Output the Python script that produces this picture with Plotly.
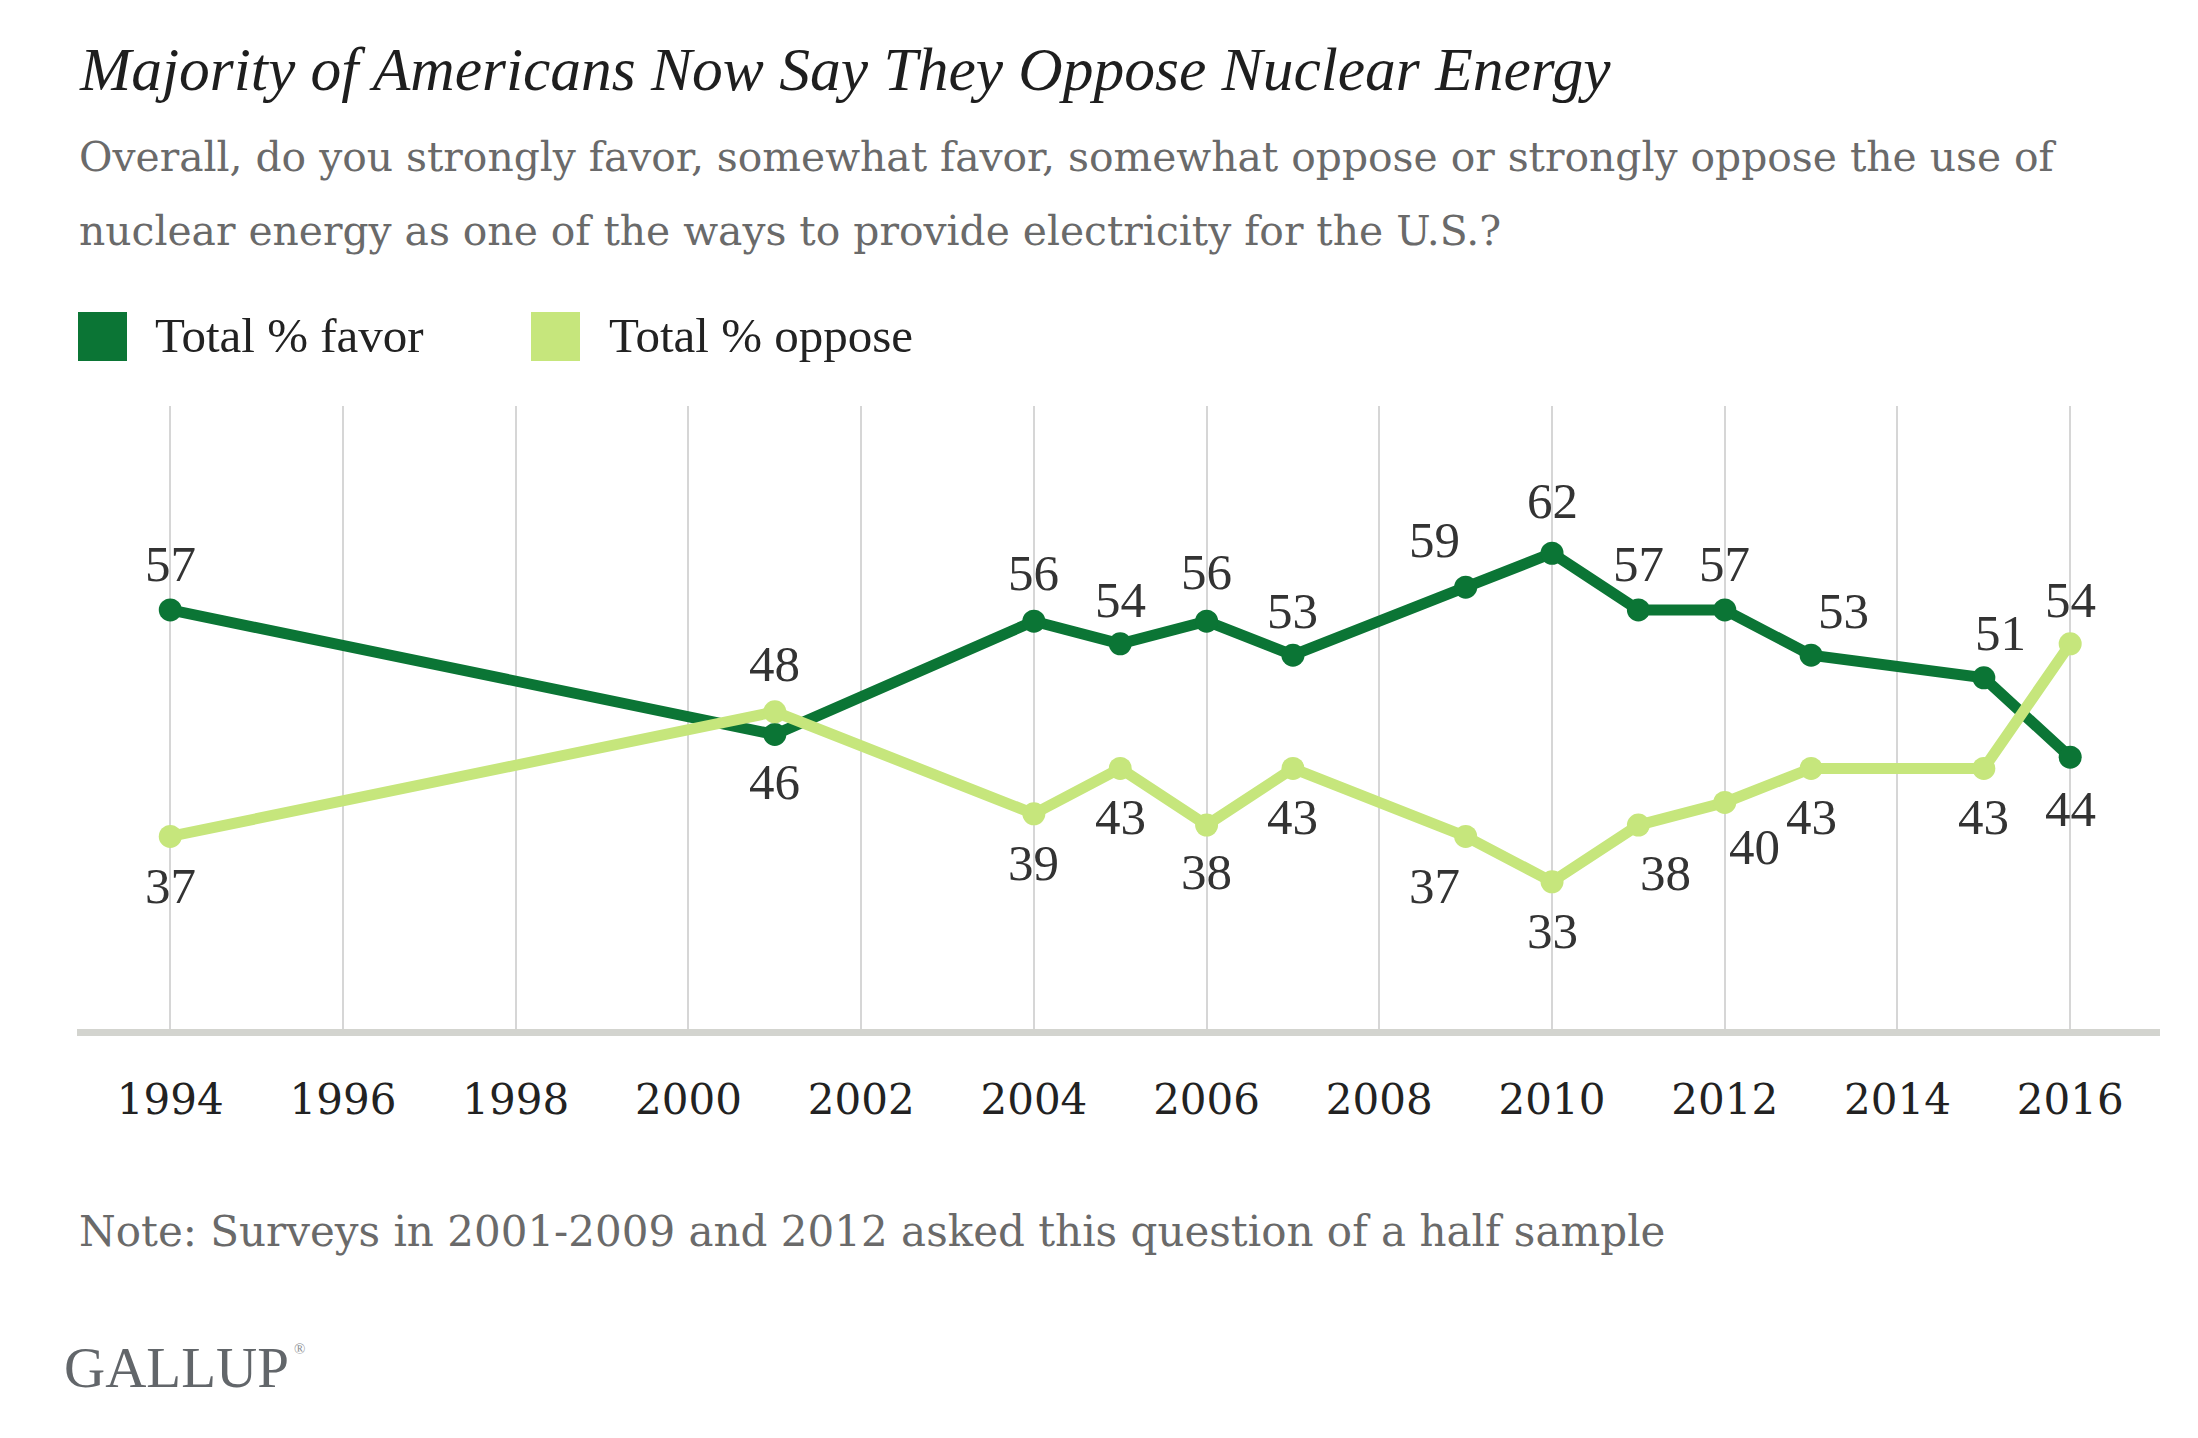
import plotly.graph_objects as go

# ---- data ----
years = [1994, 2001, 2004, 2005, 2006, 2007, 2009, 2010, 2011, 2012, 2013, 2015, 2016]
favor = [57, 46, 56, 54, 56, 53, 59, 62, 57, 57, 53, 51, 44]
oppose = [37, 48, 39, 43, 38, 43, 37, 33, 38, 40, 43, 43, 54]
tick_years = [1994, 1996, 1998, 2000, 2002, 2004, 2006, 2008, 2010, 2012, 2014, 2016]
series_names = ["Total % favor", "Total % oppose"]

title = "Majority of Americans Now Say They Oppose Nuclear Energy"
subtitle1 = "Overall, do you strongly favor, somewhat favor, somewhat oppose or strongly oppose the use of"
subtitle2 = "nuclear energy as one of the ways to provide electricity for the U.S.?"
note = "Note: Surveys in 2001-2009 and 2012 asked this question of a half sample"
brand = "GALLUP"

# ---- label placement (style) ----
favor_dir = [1, -1, 1, 1, 1, 1, 1, 1, 1, 1, 1, 1, -1]
favor_dx = [0, 0, 0, 0, 0, 0, -31, 0, 0, 0, 32, 17, 0]
favor_dy = [46, 48, 48, 44, 49, 44, 47, 52, 46, 46, 44, 45, 52]
oppose_dir = [-1, 1, -1, -1, -1, -1, -1, -1, -1, -1, -1, -1, 1]
oppose_dx = [0, 0, 0, 0, 0, 0, -31, 0, 27, 30, 0, 0, 0]
oppose_dy = [50, 48, 49, 49, 47, 49, 50, 49, 48, 45, 49, 49, 44]

DARK = "#0b7535"
LIGHT = "#c6e67c"
SERIF = "Liberation Serif"
WIDE = "DejaVu Serif"

W, H = 2190, 1430
L, R, T, B = 69, 69 + 2083, 398, 398 + 623
PW, PH = R - L, B - T


def X(px):
    return (px - L) / PW


def Y(py):
    return (B - py) / PH


fig = go.Figure()
fig.add_trace(go.Scatter(x=years, y=favor, mode="lines+markers", name=series_names[0],
                         line=dict(color=DARK, width=11), marker=dict(color=DARK, size=23),
                         showlegend=False, hoverinfo="skip"))
fig.add_trace(go.Scatter(x=years, y=oppose, mode="lines+markers", name=series_names[1],
                         line=dict(color=LIGHT, width=11), marker=dict(color=LIGHT, size=23),
                         showlegend=False, hoverinfo="skip"))

ann = []
for ys, dirs, dxs, dys in [(favor, favor_dir, favor_dx, favor_dy),
                           (oppose, oppose_dir, oppose_dx, oppose_dy)]:
    for xv, yv, d, dx, dy in zip(years, ys, dirs, dxs, dys):
        ann.append(dict(x=xv, y=yv, xref="x", yref="y", text=str(yv), showarrow=False,
                        xanchor="center", yanchor="middle", xshift=dx, yshift=dy * d,
                        font=dict(family=SERIF, size=51, color="#333333")))


def text_at(px, py, txt, fam, size, color):
    ann.append(dict(x=X(px), y=Y(py), xref="paper", yref="paper", text=txt,
                    showarrow=False, xanchor="left", yanchor="middle", borderpad=0,
                    font=dict(family=fam, size=size, color=color)))


text_at(70, 61, "<i>" + title + "</i>", SERIF, 61.5, "#1e1e1e")
text_at(70, 149, subtitle1, WIDE, 40.8, "#6a6a6a")
text_at(70, 223, subtitle2, WIDE, 40.8, "#6a6a6a")
text_at(146, 327, series_names[0], SERIF, 49, "#222222")
text_at(600, 327, series_names[1], SERIF, 49, "#222222")
text_at(70, 1223, note, WIDE, 42, "#6a6a6a")
text_at(55, 1359, brand, SERIF, 57, "#62666a")
text_at(285, 1341, "®", SERIF, 15, "#8a8e92")

shapes = [
    dict(type="rect", xref="paper", yref="paper", x0=X(70), x1=X(119), y0=Y(353), y1=Y(304),
         fillcolor=DARK, line=dict(width=0)),
    dict(type="rect", xref="paper", yref="paper", x0=X(523), x1=X(572), y0=Y(353), y1=Y(304),
         fillcolor=LIGHT, line=dict(width=0)),
]

fig.update_layout(
    width=W, height=H, autosize=False,
    margin=dict(l=L, r=W - R, t=T, b=H - B, pad=0),
    paper_bgcolor="white", plot_bgcolor="white",
    annotations=ann, shapes=shapes, showlegend=False,
    xaxis=dict(range=[1992.92, 2017.04], tickvals=tick_years, ticktext=[str(t) for t in tick_years],
               showgrid=True, gridcolor="#d6d6d6", gridwidth=2, zeroline=False,
               showline=True, linecolor="#d3d4cf", linewidth=7, ticks="",
               ticklabelstandoff=28,
               tickfont=dict(family=WIDE, size=42, color="#222222"), fixedrange=True),
    yaxis=dict(range=[20, 75], visible=False, showgrid=False, zeroline=False, fixedrange=True),
)

fig.write_html("out.html")
